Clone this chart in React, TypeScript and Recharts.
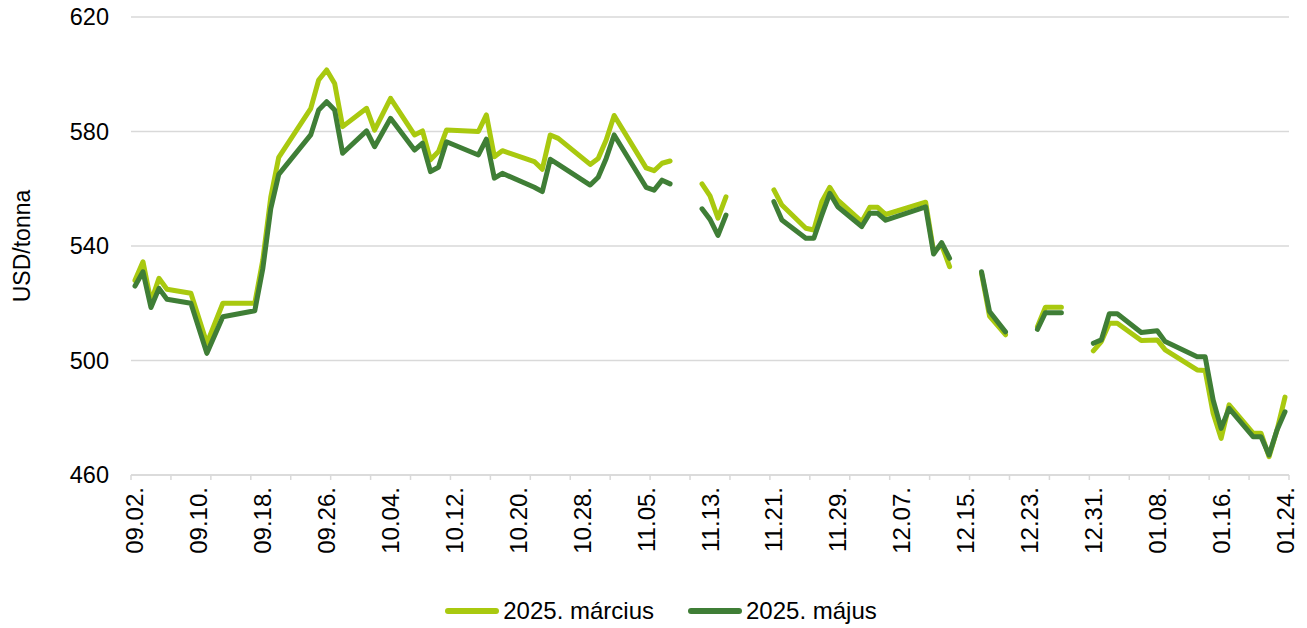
import { LineChart, Line, XAxis, YAxis, CartesianGrid, Legend } from 'recharts';

// trading days, counted from 2024-09-02 (day 0); null rows break the lines
const days = [0, 1, 2, 3, 4, 7, 9, 11, 15, 16, 17, 18, 22, 23, 24, 25, 26, 29, 30, 32, 35, 36, 37, 38, 39, 43, 44, 45, 46, 50, 51, 52, 53, 57, 58, 59, 60, 64, 65, 66, 67, 70, 71, 72, 73, 74, 77, 80, 81, 84, 85, 86, 87, 88, 91, 92, 93, 94, 99, 100, 101, 102, 105, 106, 107, 109, 112, 113, 114, 116, 119, 120, 121, 122, 123, 126, 128, 129, 133, 134, 135, 136, 137, 140, 141, 142, 143, 144];

const marcius = [528, 534.5, 520.5, 528.7, 524.9, 523.5, 506, 520, 520, 535, 557, 571, 588, 598, 601.5, 596.8, 581.7, 588.1, 580.5, 591.6, 578.8, 580.2, 570.1, 573, 580.5, 580, 585.8, 571.2, 573.3, 569.5, 566.8, 578.8, 577.6, 568.5, 570.6, 577, 585.6, 567.3, 566.3, 568.9, 569.7, null, 561.7, 557.5, 549.7, 557.2, null, 559.6, 554.3, 546.2, 545.6, 555.5, 560.5, 556, 548.5, 553.5, 553.5, 551, 555.3, 538, 540.4, 532.8, null, 530.5, 515.5, 509, null, 511.8, 518.6, 518.6, null, 503.4, 506.6, 513, 513, 507, 507.2, 503.7, 496.7, 496.5, 481.6, 472.8, 484.5, 474.6, 474.6, 466.4, 475.7, 487.2];

const majus = [526, 531, 518.5, 525.2, 521.4, 520, 502.5, 515.3, 517.4, 532, 553, 565, 578.8, 587.5, 590.4, 587.5, 572.4, 580.2, 574.7, 584.6, 573.5, 575.9, 566, 567.5, 576.4, 571.8, 577.3, 563.7, 565.4, 560.5, 559, 570.3, 568.5, 561.3, 564, 570.6, 578.8, 560.5, 559.5, 563, 561.7, null, 553, 549.3, 543.7, 550.8, null, 555.5, 549.1, 542.7, 542.7, 550.8, 558.4, 553.7, 546.8, 551.4, 551.4, 549, 553.7, 537.2, 541.2, 535.7, null, 531, 517.1, 510, null, 510.9, 516.7, 516.7, null, 506, 507.2, 516.3, 516.3, 509.8, 510.4, 506.6, 501.3, 501.3, 486.2, 476.3, 483.3, 473.4, 473.4, 467, 475.7, 482.1];

const tickDays = [0, 8, 16, 24, 32, 40, 48, 56, 64, 72, 80, 88, 96, 104, 112, 120, 128, 136, 144];
const tickLabels = ['09.02.', '09.10.', '09.18.', '09.26.', '10.04.', '10.12.', '10.20.', '10.28.', '11.05.', '11.13.', '11.21.', '11.29.', '12.07.', '12.15.', '12.23.', '12.31.', '01.08.', '01.16.', '01.24.'];
const markDays = [-0.5, 4.5, 9.5, 14.5, 19.5, 24.5, 29.5, 34.5, 39.5, 44.5, 49.5, 54.5, 59.5, 64.5, 69.5, 74.5, 79.5, 84.5, 89.5, 94.5, 99.5, 104.5, 109.5, 114.5, 119.5, 124.5, 129.5, 134.5, 139.5, 144.5];
const yTicks = [460, 500, 540, 580, 620];

const data = days.map((d, i) => ({ d, marcius: marcius[i], majus: majus[i] }));
const allTicks = [...tickDays, ...markDays].sort((a, b) => a - b);

const FONT = '"Liberation Sans", Arial, sans-serif';
const LIGHT = '#a9c90f';
const DARK = '#3f7e36';
const GRID = '#d9d9d9';

const XTick = (props: any) => {
  const { x, y, payload } = props;
  const i = tickDays.indexOf(payload.value);
  if (i >= 0) {
    const ty = y + 12;
    return (
      <text x={x} y={ty} transform={`rotate(-90 ${x} ${ty})`} textAnchor="end" dominantBaseline="central"
        fontFamily={FONT} fontSize={24} fill="#000">
        {tickLabels[i]}
      </text>
    );
  }
  return <line x1={x} x2={x} y1={y} y2={y + 5} stroke={GRID} strokeWidth={1.5} />;
};

const LegendContent = () => (
  <div style={{ display: 'flex', justifyContent: 'center', alignItems: 'center', height: 34, fontFamily: FONT, fontSize: 24, color: '#000', paddingLeft: 32 }}>
    {[{ name: '2025. március', color: LIGHT }, { name: '2025. május', color: DARK }].map((s, i) => (
      <div key={s.name} style={{ display: 'flex', alignItems: 'center', marginLeft: i ? 33 : 0 }}>
        <svg width={56} height={8} style={{ marginRight: 3 }}>
          <line x1={4} x2={52} y1={4} y2={4} stroke={s.color} strokeWidth={6} strokeLinecap="round" />
        </svg>
        <span>{s.name}</span>
      </div>
    ))}
  </div>
);

export default function App() {
  return (
    <div style={{ position: 'absolute', left: 0, top: 0, width: 1307, height: 628, background: '#fff' }}>
      <LineChart width={1307} height={628} data={data} margin={{ top: 17, right: 18, left: 0, bottom: 0 }}>
        <CartesianGrid vertical={false} stroke={GRID} strokeWidth={1.5} />
        <XAxis dataKey="d" type="number" domain={[-0.5, 144.5]} ticks={allTicks} interval={0}
          tick={<XTick />} tickLine={false} tickSize={0} tickMargin={0} height={119}
          axisLine={{ stroke: GRID, strokeWidth: 1.5 }} />
        <YAxis domain={[460, 620]} ticks={yTicks} width={131} axisLine={false} tickLine={false}
          tickSize={0} tickMargin={22} tick={{ fontFamily: FONT, fontSize: 23.5, fill: '#000' }}
          label={{
            content: () => (
              <text x={22} y={246} transform="rotate(-90 22 246)" textAnchor="middle" dominantBaseline="central"
                fontFamily={FONT} fontSize={23} fill="#000">USD/tonna</text>
            ),
          }} />
        <Legend verticalAlign="bottom" height={34} content={<LegendContent />} />
        <Line type="linear" dataKey="marcius" name="2025. március" stroke={LIGHT} strokeWidth={5} dot={false}
          activeDot={false} strokeLinecap="round" strokeLinejoin="round" isAnimationActive={false} />
        <Line type="linear" dataKey="majus" name="2025. május" stroke={DARK} strokeWidth={5} dot={false}
          activeDot={false} strokeLinecap="round" strokeLinejoin="round" isAnimationActive={false} />
      </LineChart>
    </div>
  );
}
